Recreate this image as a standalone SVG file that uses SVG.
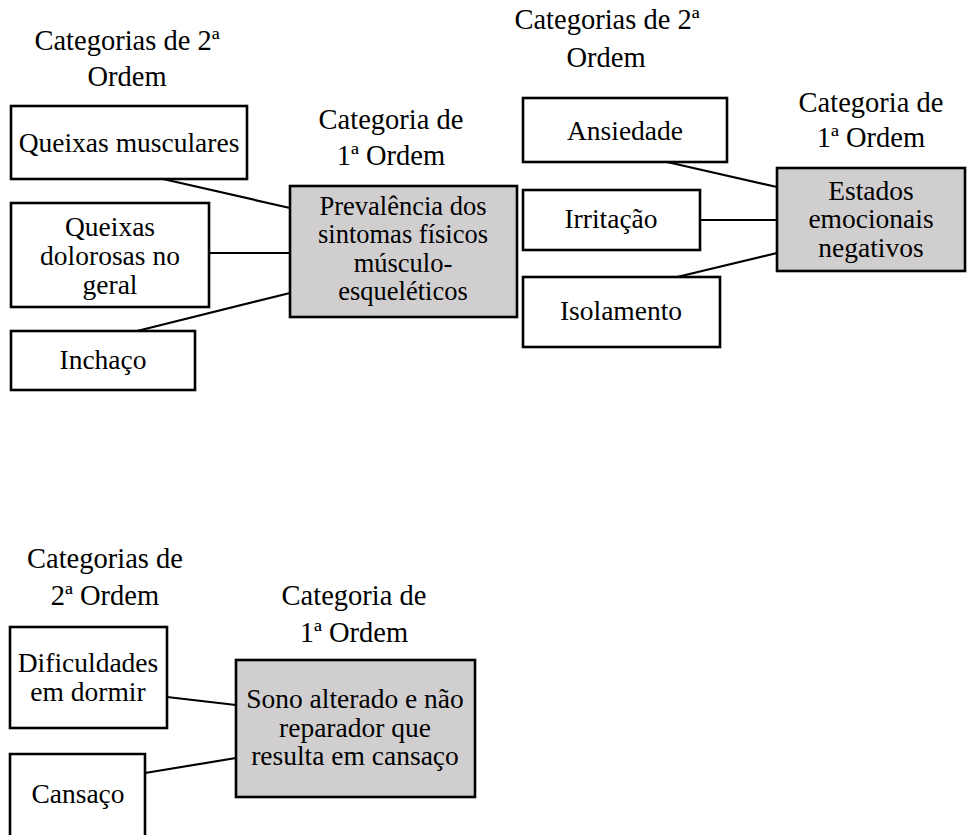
<svg xmlns="http://www.w3.org/2000/svg" width="967" height="835" viewBox="0 0 967 835" font-family="Liberation Serif, Times New Roman, Times, serif" font-size="27.5">
  <style>
    text { fill: #000; text-anchor: middle; }
    .title { font-size: 28.5px; }
    .box { fill: #fff; stroke: #000; stroke-width: 2.6; }
    .main { fill: #d0cece; stroke: #000; stroke-width: 2.6; }
    .link { stroke: #000; stroke-width: 2.2; fill: none; }
  </style>
  <rect width="967" height="835" fill="#fff"/>

  <!-- column headings -->
  <g id="headings" class="title">
    <text x="127" y="50">Categorias de 2ª</text>
    <text x="127" y="86">Ordem</text>
    <text x="391" y="129">Categoria de</text>
    <text x="391" y="165">1ª Ordem</text>
    <text x="607" y="29">Categorias de 2ª</text>
    <text x="606" y="67">Ordem</text>
    <text x="871" y="112">Categoria de</text>
    <text x="871" y="147">1ª Ordem</text>
    <text x="105" y="568">Categorias de</text>
    <text x="105" y="605">2ª Ordem</text>
    <text x="354" y="605">Categoria de</text>
    <text x="354" y="642">1ª Ordem</text>
  </g>

  <!-- connectors -->
  <g id="connectors">
    <line class="link" x1="163" y1="179" x2="290" y2="208"/>
    <line class="link" x1="209" y1="253" x2="290" y2="253"/>
    <line class="link" x1="137" y1="331" x2="290" y2="293"/>
    <line class="link" x1="667" y1="162" x2="777" y2="187"/>
    <line class="link" x1="700" y1="220" x2="777" y2="220"/>
    <line class="link" x1="677" y1="277" x2="777" y2="253"/>
    <line class="link" x1="167" y1="697" x2="236" y2="705"/>
    <line class="link" x1="145" y1="773" x2="236" y2="758"/>
  </g>

  <!-- physical symptoms cluster -->
  <g id="queixas-musculares">
    <rect class="box" x="11" y="106" width="236" height="73"/>
    <text x="129" y="152">Queixas musculares</text>
  </g>
  <g id="queixas-dolorosas">
    <rect class="box" x="11" y="203" width="198" height="104"/>
    <text x="110" y="236">Queixas</text>
    <text x="110" y="265">dolorosas no</text>
    <text x="110" y="294">geral</text>
  </g>
  <g id="inchaco">
    <rect class="box" x="11" y="331" width="184" height="59"/>
    <text x="103" y="369">Inchaço</text>
  </g>
  <g id="sintomas-fisicos" font-size="26.5">
    <rect class="main" x="290" y="186" width="227" height="131"/>
    <text x="403" y="215">Prevalência dos</text>
    <text x="403" y="243">sintomas físicos</text>
    <text x="403" y="272">músculo-</text>
    <text x="403" y="300">esqueléticos</text>
  </g>

  <!-- emotional states cluster -->
  <g id="ansiedade">
    <rect class="box" x="523" y="98" width="204" height="64"/>
    <text x="625" y="140">Ansiedade</text>
  </g>
  <g id="irritacao">
    <rect class="box" x="523" y="190" width="177" height="60"/>
    <text x="611" y="228">Irritação</text>
  </g>
  <g id="isolamento">
    <rect class="box" x="523" y="277" width="197" height="70"/>
    <text x="621" y="320">Isolamento</text>
  </g>
  <g id="estados-emocionais">
    <rect class="main" x="777" y="168" width="188" height="103"/>
    <text x="871" y="200">Estados</text>
    <text x="871" y="228">emocionais</text>
    <text x="871" y="257">negativos</text>
  </g>

  <!-- sleep cluster -->
  <g id="dificuldades-dormir">
    <rect class="box" x="10" y="627" width="157" height="101"/>
    <text x="88" y="672">Dificuldades</text>
    <text x="88" y="701">em dormir</text>
  </g>
  <g id="cansaco">
    <path class="box" d="M10,840 V754 H145 V840"/>
    <text x="78" y="803">Cansaço</text>
  </g>
  <g id="sono-alterado">
    <rect class="main" x="236" y="660" width="239" height="137"/>
    <text x="355" y="708">Sono alterado e não</text>
    <text x="355" y="737">reparador que</text>
    <text x="355" y="765">resulta em cansaço</text>
  </g>
</svg>
